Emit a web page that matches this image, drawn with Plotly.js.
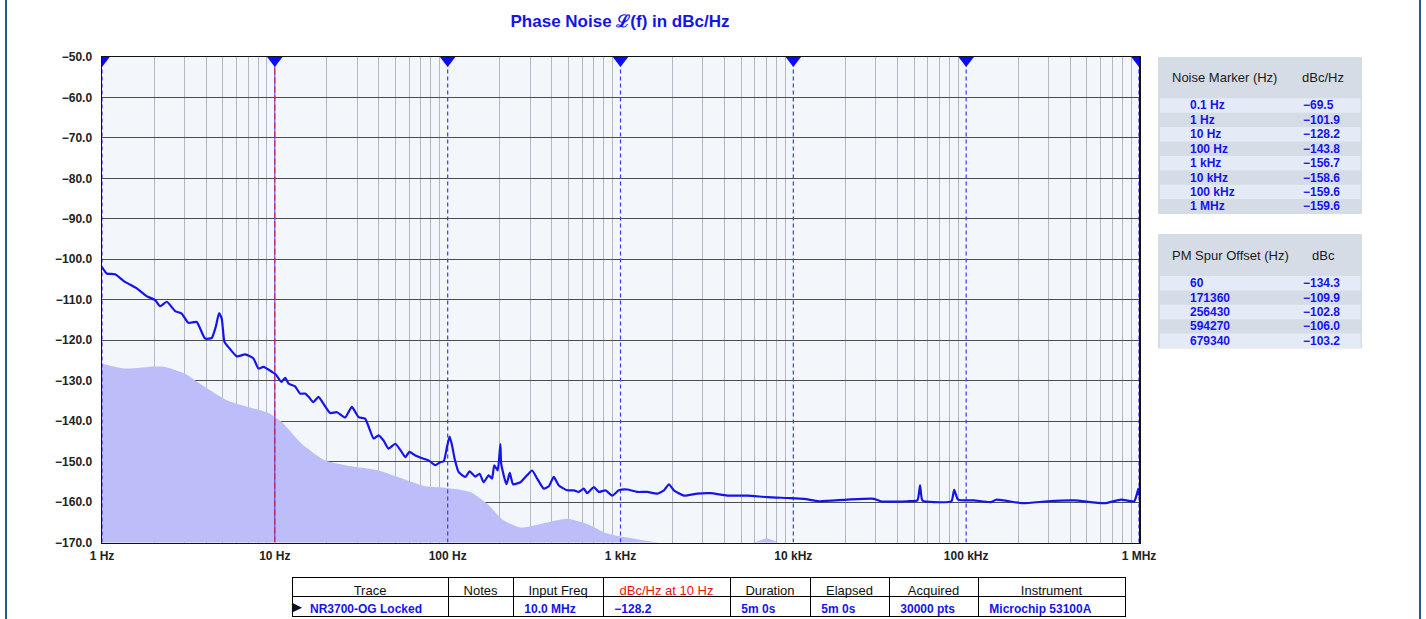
<!DOCTYPE html>
<html>
<head>
<meta charset="utf-8">
<script src="https://cdn.plot.ly/plotly-3.0.1.min.js"></script>
<style>
  html, body { margin: 0; padding: 0; background: #ffffff; overflow: hidden; }
  #chart { position: absolute; left: 0; top: 0; width: 1426px; height: 619px; }
  .frame { position: absolute; top: 0; width: 2px; height: 619px; background: #2b5496; }
</style>
</head>
<body>
<div id="chart"></div>
<div class="frame" style="left:5px"></div>
<div class="frame" style="left:1419px"></div>
<script>
// ---------------- DATA ----------------
const noiseFreq = [1, 1.065, 1.19, 1.36, 1.59, 1.81, 2.03, 2.17, 2.37, 2.65, 2.89, 3.16, 3.53, 3.95, 4.32, 4.55, 4.76, 4.93, 5.11, 5.39,
  6.03, 6.73, 7.52, 8.04, 8.6, 9.61, 10.1, 10.9, 11.5, 12.0, 13.1, 14.0, 15.0, 15.7, 16.7, 17.9, 19.1, 20.9, 22.9, 25.5, 27.9, 30.5,
  33.3, 37.3, 39.8, 42.6, 45.5, 49.8, 53.2, 56.9, 60, 65, 72.6, 77.6, 84.9, 90, 94.9, 99, 102.6, 106, 110, 115.8, 126.6, 134, 144.5,
  153, 161.5, 172.6, 180.6, 186, 194.6, 201.8, 204, 218.8, 228.7, 239, 263.6, 288, 308, 329.6, 360, 385, 411, 440, 491, 537, 573,
  613, 641, 701, 749, 819, 895, 978, 1093, 1250, 1429, 1633, 1784, 1906, 2038, 2329, 2782, 3320, 4150, 5420, 7080, 9230, 11530,
  14070, 20550, 29300, 32000, 45700, 52200, 54100, 55800, 65300, 82200, 85200, 89800, 111200, 139000, 150000, 212000, 295800,
  422000, 629500, 786000, 939000, 992000, 1000000];
const noiseDbc = [-101.9, -103.5, -103.7, -105.6, -107.2, -109.1, -110.1, -111.6, -110.5, -112.8, -113.4, -115.7, -115.5, -119.6, -119.4, -116.7, -113.3, -114.7, -120.4, -121.7,
  -124.0, -123.5, -124.5, -127.0, -126.6, -127.8, -128.4, -130.3, -129.3, -130.7, -131.4, -133.2, -133.2, -134.0, -135.3, -134.0, -135.7, -138.0, -137.8, -139.1, -136.5, -139.0,
  -139.4, -144.3, -143.5, -144.8, -146.8, -145.6, -147.1, -148.9, -147.6, -148.5, -149.3, -149.7, -150.9, -150.2, -149.9, -146.5, -143.8, -146.0, -149.5, -152.6, -153.8, -152.4, -153.7,
  -153.0, -155.1, -153.4, -154.2, -150.9, -152.2, -145.7, -150.5, -155.6, -152.8, -155.6, -155.1, -153.4, -152.2, -154.2, -156.7, -156.1, -153.8, -155.9, -157.1, -157.1, -157.5,
  -156.7, -157.8, -156.3, -157.5, -157.1, -158.4, -157.1, -156.9, -157.5, -157.5, -157.9, -157.1, -155.6, -157.1, -158.4, -157.9, -157.8, -158.4, -158.4, -158.8, -159.0, -159.2,
  -159.8, -159.4, -159.2, -159.8, -159.8, -159.6, -155.9, -159.6, -160.0, -159.8, -157.0, -159.4, -159.6, -160.0, -159.4, -160.3, -159.8,
  -159.6, -160.3, -159.4, -159.8, -156.7, -158.4];

const floorFreq = [1, 1.36, 2.03, 2.32, 3.02, 3.95, 5.39, 7.0, 9.2, 11, 14.3, 19.5, 25.5, 39.8, 54.5, 74, 99, 135, 169, 210, 264,
  344, 491, 641, 839, 1200, 1560, 2000, 5000, 6300, 7000, 7800, 9000, 1000000];
const floorDbc = [-125.8, -127.0, -126.5, -126.6, -128.3, -131.6, -135.0, -136.5, -138.0, -140.3, -145.6, -149.7, -150.9, -152.2, -154.2, -156.1, -156.5, -157.5, -160.4, -164.5, -166.3,
  -165.4, -164.1, -165.4, -167.8, -169.1, -169.9, -170.5, -171, -169.6, -169.0, -169.6, -171, -172];

const markerFreqs = [1, 10, 100, 1000, 10000, 100000, 1000000];
const xTickVals = [1, 10, 100, 1000, 10000, 100000, 1000000];
const xTickText = ['1 Hz', '10 Hz', '100 Hz', '1 kHz', '10 kHz', '100 kHz', '1 MHz'];

const noiseMarkerHeader = ['Noise Marker (Hz)', 'dBc/Hz'];
const noiseMarkerLabels = ['0.1 Hz', '1 Hz', '10 Hz', '100 Hz', '1 kHz', '10 kHz', '100 kHz', '1 MHz'];
const noiseMarkerValues = ['\u221269.5', '\u2212101.9', '\u2212128.2', '\u2212143.8', '\u2212156.7', '\u2212158.6', '\u2212159.6', '\u2212159.6'];

const spurHeader = ['PM Spur Offset (Hz)', 'dBc'];
const spurOffsets = ['60', '171360', '256430', '594270', '679340'];
const spurValues = ['\u2212134.3', '\u2212109.9', '\u2212102.8', '\u2212106.0', '\u2212103.2'];

const traceHeaders = ['Trace', 'Notes', 'Input Freq', 'dBc/Hz at 10 Hz', 'Duration', 'Elapsed', 'Acquired', 'Instrument'];
const traceRow = ['NR3700-OG Locked', '', '10.0 MHz', '\u2212128.2', '5m 0s', '5m 0s', '30000 pts', 'Microchip 53100A'];

// ---------------- LAYOUT HELPERS ----------------
const W = 1426, H = 619;
const FONT = 'Liberation Sans, Arial, sans-serif';
const BLUE = '#1515ea';
const px = v => v / W;
const py = v => 1 - v / H;
const yMin = -170, yMax = -50;
const NB = '\u00a0';

const traces = [];

// base for the shaded floor
traces.push({
  x: [floorFreq[0], floorFreq[floorFreq.length - 1]], y: [yMin - 20, yMin - 20],
  mode: 'lines', line: {width: 0, color: 'rgba(0,0,0,0)'}, hoverinfo: 'skip', showlegend: false
});
traces.push({
  x: floorFreq, y: floorDbc, mode: 'lines', fill: 'tonexty', fillcolor: '#bdbdf9',
  line: {width: 0, color: 'rgba(0,0,0,0)', shape: 'spline', smoothing: 0.6}, hoverinfo: 'skip', showlegend: false
});

// marker lines
markerFreqs.forEach((f, i) => {
  if (i === 1) {
    traces.push({x: [f, f], y: [yMin, yMax], mode: 'lines', line: {color: '#3a3aff', width: 1}, showlegend: false, hoverinfo: 'skip'});
    traces.push({x: [f, f], y: [yMin, yMax], mode: 'lines', line: {color: '#e8141e', width: 1, dash: '6px,3px'}, showlegend: false, hoverinfo: 'skip'});
  } else {
    traces.push({x: [f, f], y: [yMin, yMax], mode: 'lines', line: {color: '#3a3aff', width: 1.2, dash: '4px,3px'}, showlegend: false, hoverinfo: 'skip'});
  }
});

// main noise trace
traces.push({
  x: noiseFreq, y: noiseDbc, mode: 'lines', line: {color: BLUE, width: 2.2, shape: 'spline', smoothing: 0.5},
  showlegend: false
});

// marker triangles at top
traces.push({
  x: markerFreqs, y: markerFreqs.map(() => yMax), mode: 'markers',
  marker: {symbol: 'triangle-down', size: 20, color: '#0a0aff', line: {width: 0}},
  showlegend: false, hoverinfo: 'skip', cliponaxis: true
});

// bottom trace table
traces.push({
  type: 'table',
  domain: {x: [px(292), px(1125)], y: [py(618), py(577)]},
  columnwidth: [156, 65, 90, 127, 80, 79, 89, 147],
  header: {
    values: traceHeaders, align: 'center', height: 19,
    fill: {color: '#ffffff'}, line: {color: '#000000', width: 1},
    font: {family: FONT, size: 13, color: traceHeaders.map((h, i) => i === 3 ? '#ee1111' : '#111111')}
  },
  cells: {
    values: traceRow.map((v, i) => [(i === 0 ? NB + NB + NB : NB) + v.replace(/ /g, NB)]),
    align: 'left', height: 20,
    fill: {color: '#ffffff'}, line: {color: '#000000', width: 1},
    font: {family: FONT, size: 12, color: BLUE, weight: 'bold'}
  }
});

// minor grid values (axis decoration)
const minorVals = [];
for (let d = 0; d < 6; d++) for (let k = 2; k <= 9; k++) minorVals.push(k * Math.pow(10, d));

// side panels
const shapes = [];
const annotations = [];
function panel(top, bottom, headerY, rowTop, header, labels, values) {
  shapes.push({type: 'rect', xref: 'paper', yref: 'paper', x0: px(1158), x1: px(1362), y0: py(bottom), y1: py(top),
    fillcolor: '#d6dce6', line: {width: 0}, layer: 'below'});
  const rowH = 14.4;
  labels.forEach((lab, i) => {
    const t = rowTop + i * rowH;
    if (i % 2 === 0) {
      shapes.push({type: 'rect', xref: 'paper', yref: 'paper', x0: px(1160), x1: px(1360.5), y0: py(t + rowH), y1: py(t),
        fillcolor: '#e5ebf6', line: {width: 0}, layer: 'below'});
    }
    const c = t + rowH / 2;
    annotations.push({xref: 'paper', yref: 'paper', x: px(1188), y: py(c), xanchor: 'left', yanchor: 'middle', showarrow: false,
      text: lab, font: {family: FONT, size: 12, color: BLUE, weight: 'bold'}});
    annotations.push({xref: 'paper', yref: 'paper', x: px(1301), y: py(c), xanchor: 'left', yanchor: 'middle', showarrow: false,
      text: values[i], font: {family: FONT, size: 12, color: BLUE, weight: 'bold'}});
  });
  annotations.push({xref: 'paper', yref: 'paper', x: px(1170), y: py(headerY), xanchor: 'left', yanchor: 'middle', showarrow: false,
    text: header[0], font: {family: FONT, size: 13, color: '#1a1a1a'}});
  annotations.push({xref: 'paper', yref: 'paper', x: px(1323), y: py(headerY), xanchor: 'center', yanchor: 'middle', showarrow: false,
    text: header[1], font: {family: FONT, size: 13, color: '#1a1a1a'}});
}
panel(57, 214, 77, 98.3, noiseMarkerHeader, noiseMarkerLabels, noiseMarkerValues);
panel(234, 348.5, 255, 276, spurHeader, spurOffsets, spurValues);

// current-trace pointer in the bottom table
annotations.push({xref: 'paper', yref: 'paper', x: px(290), y: py(606.5), xanchor: 'left', yanchor: 'middle', showarrow: false,
  text: '\u25B6', font: {family: 'DejaVu Sans, sans-serif', size: 13, color: '#111111'}});

const layout = {
  width: W, height: H,
  margin: {l: 0, r: 0, t: 0, b: 0, pad: 0},
  paper_bgcolor: '#ffffff',
  plot_bgcolor: '#f3f6fb',
  showlegend: false,
  title: {
    text: 'Phase Noise \u2112(f) in dBc/Hz',
    font: {family: FONT, size: 17, color: '#1414e6', weight: 'bold'},
    x: 620 / W, xanchor: 'center', xref: 'paper',
    y: 1 - 21 / H, yanchor: 'middle', yref: 'container'
  },
  xaxis: {
    type: 'log', range: [0, 6], domain: [px(102), px(1139)],
    tickmode: 'array', tickvals: xTickVals, ticktext: xTickText,
    showgrid: false, zeroline: false, ticks: '',
    showline: true, linecolor: '#111111', linewidth: 1.5, mirror: true,
    tickfont: {family: FONT, size: 12, color: '#222222', weight: 'bold'},
    ticklabelstandoff: 2,
    minor: {tickmode: 'array', tickvals: minorVals, showgrid: true, gridcolor: '#b3bac6', gridwidth: 1, ticks: ''}
  },
  yaxis: {
    range: [yMin, yMax], domain: [py(542.5), py(57)],
    dtick: 10, tick0: -170, tickformat: '.1f',
    showgrid: true, gridcolor: '#4d4d4d', gridwidth: 1, zeroline: false, ticks: '',
    showline: true, linecolor: '#111111', linewidth: 1.5, mirror: true,
    tickfont: {family: FONT, size: 12, color: '#222222', weight: 'bold'},
    ticklabelstandoff: 6
  },
  shapes: shapes,
  annotations: annotations
};

Plotly.newPlot('chart', traces, layout, {displayModeBar: false, staticPlot: true});
</script>
</body>
</html>
